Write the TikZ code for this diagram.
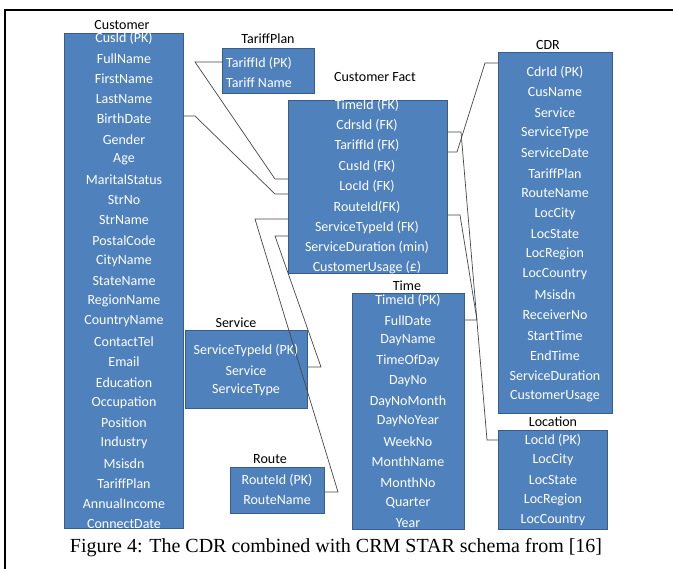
\documentclass[tikz,border=0pt]{standalone}
\usepackage{fontspec}
\setmainfont{Carlito}
\newfontfamily\capfont{Liberation Serif}
\definecolor{tblfill}{RGB}{79,129,189}
\definecolor{tbledge}{RGB}{56,93,138}
\definecolor{linkgray}{RGB}{70,70,70}
\begin{document}
\begin{tikzpicture}[x=1pt,y=-1pt,
  tbl/.style={draw=tbledge, fill=tblfill, line width=0.8pt, inner sep=0pt, anchor=north west},
  field/.style={text=white, font=\fontsize{14}{16}\selectfont, inner sep=0pt},
  ttl/.style={text=black, font=\fontsize{14}{16}\selectfont, inner sep=0pt},
  link/.style={draw=linkgray, line width=0.7pt},
  frameline/.style={line width=2pt, black}]
\useasboundingbox (0,0) rectangle (673,569);
\fill[white] (0,0) rectangle (673,569);

% page frame (top and left rules)
\coordinate (fr-a) at (673,10);
\coordinate (fr-b) at (5,10);
\coordinate (fr-c) at (5,569);
\draw[frameline] (fr-a) -- (fr-b) -- (fr-c);

% tables
\node[tbl, minimum width=119pt, minimum height=495pt] (cust)    at (64,33)   {};
\node[tbl, minimum width=92pt,  minimum height=45pt]  (tariff)  at (222,48)  {};
\node[tbl, minimum width=159pt, minimum height=173pt] (fact)    at (288,100) {};
\node[tbl, minimum width=114pt, minimum height=361pt] (cdr)     at (498,52)  {};
\node[tbl, minimum width=109pt, minimum height=99pt]  (loc)     at (498,430) {};
\node[tbl, minimum width=112pt, minimum height=236pt] (time)    at (352,293) {};
\node[tbl, minimum width=122pt, minimum height=78pt]  (service) at (185,330) {};
\node[tbl, minimum width=94pt,  minimum height=46pt]  (route)   at (230,467) {};

% fields
\foreach \t [count=\i] in {CusId (PK), FullName, FirstName, LastName, BirthDate,
    Gender, Age, MaritalStatus, StrNo, StrName, PostalCode, CityName, StateName,
    RegionName, CountryName, ContactTel, Email, Education, Occupation, Position,
    Industry, Msisdn, TariffPlan, AnnualIncome, ConnectDate}
  \node[field] (cust-\i) at (124,{38+20.25*(\i-1)}) {\t};

\foreach \t [count=\i] in {TariffId (PK), Tariff Name}
  \node[field] (tariff-\i) at (259,{63+20*(\i-1)}) {\t};

\foreach \t [count=\i] in {TimeId (FK), CdrsId (FK), TariffId (FK), CusId (FK),
    LocId (FK), RouteId(FK), ServiceTypeId (FK), ServiceDuration (min),
    CustomerUsage (£)}
  \node[field] (fact-\i) at (367,{105+20.375*(\i-1)}) {\t};

\foreach \t [count=\i] in {CdrId (PK), CusName, Service, ServiceType, ServiceDate,
    TariffPlan, RouteName, LocCity, LocState, LocRegion, LocCountry, Msisdn,
    ReceiverNo, StartTime, EndTime, ServiceDuration, CustomerUsage}
  \node[field] (cdr-\i) at (555,{72+20.25*(\i-1)}) {\t};

\foreach \t [count=\i] in {LocId (PK), LocCity, LocState, LocRegion, LocCountry}
  \node[field] (loc-\i) at (553,{440+20*(\i-1)}) {\t};

\foreach \t [count=\i] in {TimeId (PK), FullDate, DayName, TimeOfDay, DayNo,
    DayNoMonth, DayNoYear, WeekNo, MonthName, MonthNo, Quarter, Year}
  \node[field] (time-\i) at (408,{300+20.27*(\i-1)}) {\t};

\foreach \t [count=\i] in {ServiceTypeId (PK), Service, ServiceType}
  \node[field] (service-\i) at (246,{351+19.5*(\i-1)}) {\t};

\foreach \t [count=\i] in {RouteId (PK), RouteName}
  \node[field] (route-\i) at (277,{480+20*(\i-1)}) {\t};

% relationships
\coordinate (a1) at (195,62);  \coordinate (a2) at (275,179);
\draw[link] (tariff.west |- a1) -- (a1) -- (a2) -- (fact.west |- a2);
\coordinate (b1) at (195,116); \coordinate (b2) at (275,194);
\draw[link] (cust.east |- b1) -- (b1) -- (b2) -- (fact.west |- b2);
\coordinate (c1) at (255,219); \coordinate (c2) at (338,492);
\draw[link] (fact.west |- c1) -- (c1) -- (c2) -- (route.east |- c2);
\coordinate (d1) at (275,236); \coordinate (d2) at (321,367);
\draw[link] (fact.west |- d1) -- (d1) -- (d2) -- (service.east |- d2);
\coordinate (e1) at (485,63);  \coordinate (e2) at (457,152);
\draw[link] (cdr.west |- e1) -- (e1) -- (e2) -- (fact.east |- e2);
\coordinate (f1) at (461,132); \coordinate (f2) at (487,440);
\draw[link] (fact.east |- f1) -- (f1) -- (f2) -- (loc.west |- f2);
\coordinate (g1) at (460,215); \coordinate (g2) at (477,320);
\draw[link] (fact.east |- g1) -- (g1) -- (g2) -- (time.east |- g2);

% table titles
\node[ttl] (cust-t)    at (122,25)  {Customer};
\node[ttl] (tariff-t)  at (268,39)  {TariffPlan};
\node[ttl] (fact-t)    at (375,77)  {Customer Fact};
\node[ttl] (cdr-t)     at (548,45)  {CDR};
\node[ttl] (service-t) at (236,323) {Service};
\node[ttl] (route-t)   at (270,459) {Route};
\node[ttl] (time-t)    at (407,286) {Time};
\node[ttl] (loc-t)     at (553,422) {Location};

% caption
\node[font=\capfont\fontsize{20}{23}\selectfont, inner sep=0pt] (cap) at (336,548)
  {Figure 4: The CDR combined with CRM STAR schema from [16]};
\end{tikzpicture}
\end{document}
